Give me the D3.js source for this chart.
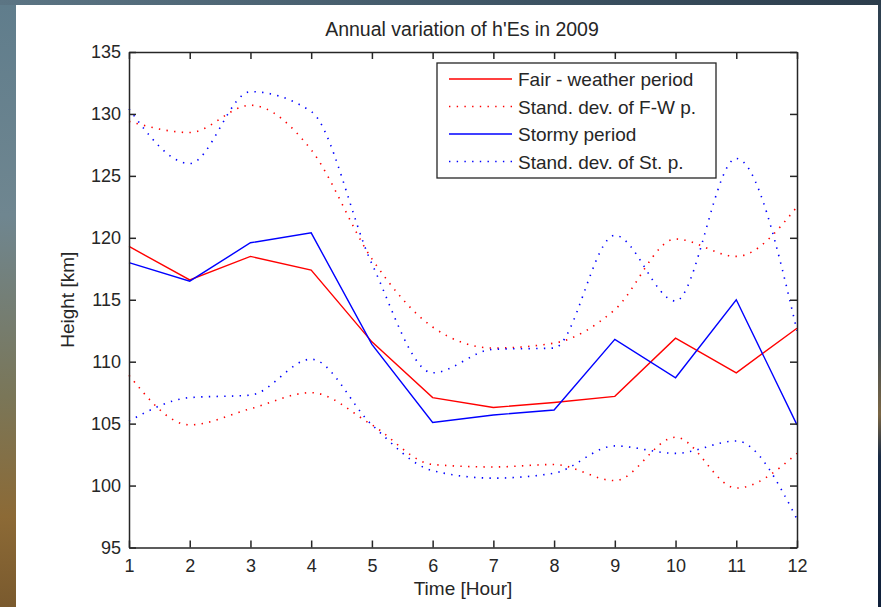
<!DOCTYPE html>
<html>
<head>
<meta charset="utf-8">
<script src="https://cdn.jsdelivr.net/npm/d3@7"></script>
<style>
  html, body { margin: 0; padding: 0; background: #2f4252; }
  svg { display: block; }
  text { font-family: "Liberation Sans", Arial, Helvetica, sans-serif; fill: #262626; }
</style>
</head>
<body>
<div id="vis"></div>
<script>
// hours on the x axis
var hours = [1, 2, 3, 4, 5, 6, 7, 8, 9, 10, 11, 12];

// fair-weather period: mean and mean +/- standard deviation
var fairMean  = [119.3, 116.6, 118.5, 117.4, 111.6, 107.1, 106.3, 106.7, 107.2, 111.9, 109.1, 112.7];
var fairUpper = [129.4, 128.5, 130.7, 127.1, 118.3, 112.8, 111.1, 111.5, 114.2, 119.9, 118.5, 122.5];
var fairLower = [108.9, 104.9, 106.2, 107.5, 104.9, 101.7, 101.5, 101.7, 100.4, 103.9, 99.8, 102.6];

// stormy period: mean and mean +/- standard deviation
var stormMean  = [118.0, 116.5, 119.6, 120.4, 111.4, 105.1, 105.7, 106.1, 111.8, 108.7, 115.0, 104.9];
var stormUpper = [130.4, 126.0, 131.8, 130.2, 117.9, 109.1, 111.0, 111.1, 120.2, 114.9, 126.4, 112.5];
var stormLower = [105.2, 107.1, 107.3, 110.2, 104.9, 101.2, 100.6, 101.0, 103.2, 102.6, 103.6, 97.3];

var yTicks = [95, 100, 105, 110, 115, 120, 125, 130, 135];

var legendLabels = ["Fair - weather period", "Stand. dev. of F-W p.", "Stormy period", "Stand. dev. of St. p."];

var width = 881, height = 607;
var margin = {top: 52, right: 84, bottom: 59.5, left: 129};

var svg = d3.select("#vis")
            .append("svg")
            .attr("width", width)
            .attr("height", height);

// background photo behind the figure, faked with gradients
var defs = svg.append("defs");
var gTop = defs.append("linearGradient").attr("id", "bgTop");
gTop.append("stop").attr("offset", "0%").attr("stop-color", "#5c7584");
gTop.append("stop").attr("offset", "60%").attr("stop-color", "#3d5363");
gTop.append("stop").attr("offset", "100%").attr("stop-color", "#2c3d4c");
var gLeft = defs.append("linearGradient").attr("id", "bgLeft")
                .attr("x1", 0).attr("y1", 0).attr("x2", 0).attr("y2", 1);
gLeft.append("stop").attr("offset", "0%").attr("stop-color", "#607d8c");
gLeft.append("stop").attr("offset", "35%").attr("stop-color", "#6f8690");
gLeft.append("stop").attr("offset", "65%").attr("stop-color", "#7a7658");
gLeft.append("stop").attr("offset", "85%").attr("stop-color", "#8c6a36");
gLeft.append("stop").attr("offset", "100%").attr("stop-color", "#7a5a2e");
var gRight = defs.append("linearGradient").attr("id", "bgRight")
                 .attr("x1", 0).attr("y1", 0).attr("x2", 0).attr("y2", 1);
gRight.append("stop").attr("offset", "0%").attr("stop-color", "#2e4050");
gRight.append("stop").attr("offset", "55%").attr("stop-color", "#3b4a55");
gRight.append("stop").attr("offset", "68%").attr("stop-color", "#7a6644");
gRight.append("stop").attr("offset", "75%").attr("stop-color", "#1a2c46");
gRight.append("stop").attr("offset", "100%").attr("stop-color", "#10203a");

svg.append("rect").attr("width", width).attr("height", height).attr("fill", "url(#bgTop)");
svg.append("rect").attr("x", 0).attr("y", 5).attr("width", 16).attr("height", height - 5).attr("fill", "url(#bgLeft)");
svg.append("rect").attr("x", 878).attr("y", 5).attr("width", 3).attr("height", height - 5).attr("fill", "url(#bgRight)");

// white figure area
svg.append("rect")
   .attr("x", 16).attr("y", 5)
   .attr("width", 862).attr("height", height - 5)
   .attr("fill", "white");

var x = d3.scaleLinear()
          .domain([1, 12])
          .range([margin.left, width - margin.right]);

var y = d3.scaleLinear()
          .domain([95, 135])
          .range([height - margin.bottom, margin.top]);

var plot = svg.append("g");

// the series: solid means, dotted smoothed std curves
var series = [
  {values: fairUpper,  color: "#ff0000", dotted: true},
  {values: fairLower,  color: "#ff0000", dotted: true},
  {values: stormUpper, color: "#0000ff", dotted: true},
  {values: stormLower, color: "#0000ff", dotted: true},
  {values: fairMean,   color: "#ff0000", dotted: false},
  {values: stormMean,  color: "#0000ff", dotted: false}
];

series.forEach(function(s) {
  var line = d3.line()
               .x(function(d, i) { return x(hours[i]); })
               .y(function(d) { return y(d); })
               .curve(s.dotted ? d3.curveMonotoneX : d3.curveLinear);
  plot.append("path")
      .datum(s.values)
      .attr("d", line)
      .attr("fill", "none")
      .attr("stroke", s.color)
      .attr("stroke-width", s.dotted ? 1.6 : 1.4)
      .attr("stroke-dasharray", s.dotted ? "1.4,6.3" : null);
});

// axes box with inward ticks on all sides
var axisColor = "#262626";
var xBottom = d3.axisBottom(x).tickValues(hours).tickSizeInner(-7).tickSizeOuter(0).tickPadding(12);
var xTop = d3.axisTop(x).tickValues(hours).tickSizeInner(-7).tickSizeOuter(0).tickFormat("");
var yLeft = d3.axisLeft(y).tickValues(yTicks).tickSizeInner(-7).tickSizeOuter(0).tickPadding(8);
var yRight = d3.axisRight(y).tickValues(yTicks).tickSizeInner(-7).tickSizeOuter(0).tickFormat("");

function styleAxis(g) {
  g.select(".domain").attr("stroke", axisColor).attr("stroke-width", 1.5);
  g.selectAll(".tick line").attr("stroke", axisColor).attr("stroke-width", 1.5);
  g.selectAll(".tick text")
   .attr("fill", axisColor)
   .style("font-size", "18px")
   .style("font-family", "'Liberation Sans', Arial, sans-serif");
}

svg.append("g").attr("transform", "translate(0," + y(95) + ")").call(xBottom).call(styleAxis);
svg.append("g").attr("transform", "translate(0," + y(135) + ")").call(xTop).call(styleAxis);
svg.append("g").attr("transform", "translate(" + x(1) + ",0)").call(yLeft).call(styleAxis);
svg.append("g").attr("transform", "translate(" + x(12) + ",0)").call(yRight).call(styleAxis);

// titles
svg.append("text")
   .attr("x", (x(1) + x(12)) / 2 - 1).attr("y", 36)
   .attr("text-anchor", "middle")
   .style("font-size", "19.5px")
   .text("Annual variation of h'Es in 2009");

svg.append("text")
   .attr("x", (x(1) + x(12)) / 2).attr("y", 595)
   .attr("text-anchor", "middle")
   .style("font-size", "19px")
   .text("Time [Hour]");

svg.append("text")
   .attr("transform", "translate(74," + ((y(95) + y(135)) / 2) + ") rotate(-90)")
   .attr("text-anchor", "middle")
   .style("font-size", "19px")
   .text("Height [km]");

// legend
var legend = svg.append("g").attr("transform", "translate(437,63)");
legend.append("rect")
      .attr("width", 279).attr("height", 115)
      .attr("fill", "white")
      .attr("stroke", axisColor)
      .attr("stroke-width", 1.3);

var legendStyle = [
  {color: "#ff0000", dotted: false},
  {color: "#ff0000", dotted: true},
  {color: "#0000ff", dotted: false},
  {color: "#0000ff", dotted: true}
];

legendLabels.forEach(function(label, i) {
  var ly = 16 + i * 27.5;
  legend.append("line")
        .attr("x1", 12).attr("x2", 75)
        .attr("y1", ly).attr("y2", ly)
        .attr("stroke", legendStyle[i].color)
        .attr("stroke-width", legendStyle[i].dotted ? 1.6 : 1.4)
        .attr("stroke-dasharray", legendStyle[i].dotted ? "1.4,6.3" : null);
  legend.append("text")
        .attr("x", 81).attr("y", ly + 7)
        .style("font-size", "19px")
        .text(label);
});
</script>
</body>
</html>
